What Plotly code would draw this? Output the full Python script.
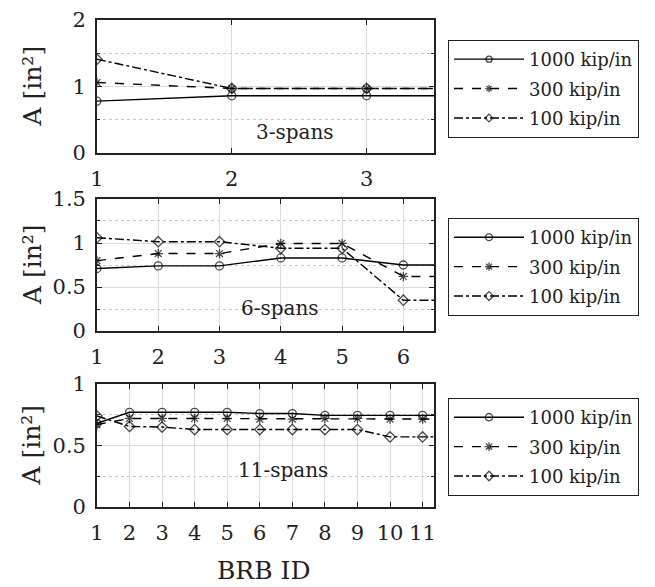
import plotly.graph_objects as go

# ---------------- data ----------------
series_names = ["1000 kip/in", "300 kip/in", "100 kip/in"]

ids_3 = [1, 2, 3]
a3_1000 = [0.78, 0.86, 0.86]
a3_300 = [1.06, 0.97, 0.97]
a3_100 = [1.41, 0.97, 0.97]

ids_6 = [1, 2, 3, 4, 5, 6]
a6_1000 = [0.71, 0.74, 0.74, 0.83, 0.83, 0.75]
a6_300 = [0.80, 0.88, 0.88, 0.995, 0.995, 0.62]
a6_100 = [1.06, 1.015, 1.015, 0.94, 0.94, 0.35]

ids_11 = [1, 2, 3, 4, 5, 6, 7, 8, 9, 10, 11]
a11_1000 = [0.68, 0.77, 0.77, 0.77, 0.77, 0.76, 0.76, 0.745, 0.745, 0.745, 0.745]
a11_300 = [0.67, 0.72, 0.72, 0.72, 0.72, 0.715, 0.715, 0.72, 0.72, 0.715, 0.715]
a11_100 = [0.74, 0.655, 0.65, 0.63, 0.63, 0.63, 0.63, 0.63, 0.63, 0.57, 0.57]

panel_labels = ["3-spans", "6-spans", "11-spans"]
x_titles = "BRB ID"
y_title = "A [in²]"

# ---------------- styling ----------------
FONT = "DejaVu Serif, Liberation Serif, serif"
dashes = ["solid", "dash", "dashdot"]
symbols = ["circle-open", "asterisk-open", "diamond-open"]

panels = [
    dict(ids=ids_3, vals=[a3_1000, a3_300, a3_100], xr=[1, 3.5], yr=[0, 2], dtick=1, minor=0.5,
         dom=[0.7394, 0.9659], lab=(0.5875, 0.158)),
    dict(ids=ids_6, vals=[a6_1000, a6_300, a6_100], xr=[1, 6.5], yr=[0, 1.5], dtick=0.5, minor=0.25,
         dom=[0.4361, 0.6610], lab=(0.543, 0.174)),
    dict(ids=ids_11, vals=[a11_1000, a11_300, a11_100], xr=[1, 11.35], yr=[0, 1], dtick=0.5, minor=0.25,
         dom=[0.1363, 0.3458], lab=(0.552, 0.30)),
]
legend_tops = [0.9319, 0.6286, 0.322]

fig = go.Figure()
layout = dict(
    width=655, height=587,
    margin=dict(l=0, r=0, t=0, b=0, autoexpand=False),
    paper_bgcolor="white", plot_bgcolor="white",
    font=dict(family=FONT, color="#222", size=21),
    annotations=[],
)

for p_i, p in enumerate(panels):
    n = p_i + 1
    xa = "x" if n == 1 else f"x{n}"
    ya = "y" if n == 1 else f"y{n}"
    lg = "legend" if n == 1 else f"legend{n}"
    xend = p["xr"][1]
    for s_i, vals in enumerate(p["vals"]):
        xs = list(p["ids"]) + [xend]
        ys = list(vals) + [vals[-1]]
        sizes = [8] * len(p["ids"]) + [0]
        fig.add_trace(go.Scatter(
            x=xs, y=ys, xaxis=xa, yaxis=ya, mode="lines+markers",
            name=series_names[s_i], legend=lg, showlegend=True,
            legendgroup=f"p{n}s{s_i}",
            line=dict(color="black", width=1.4, dash=dashes[s_i]),
            marker=dict(symbol=symbols[s_i], size=sizes, color="black",
                        line=dict(color="black", width=1.3)),
        ))
    xkey = "xaxis" if n == 1 else f"xaxis{n}"
    ykey = "yaxis" if n == 1 else f"yaxis{n}"
    layout[xkey] = dict(
        domain=[0.148, 0.6626], range=p["xr"], anchor=ya,
        tickmode="array", tickvals=p["ids"], ticktext=[str(v) for v in p["ids"]],
        showline=True, linecolor="#222", linewidth=1.5, mirror="ticks",
        ticks="inside", ticklen=5, tickcolor="#222",
        showgrid=True, gridcolor="#dcdcdc", gridwidth=1, zeroline=False,
        tickfont=dict(size=21, family=FONT, color="#222"), ticklabelstandoff=6,
        automargin=False,
    )
    layout[ykey] = dict(
        domain=p["dom"], range=p["yr"], anchor=xa, dtick=p["dtick"], tick0=0,
        showline=True, linecolor="#222", linewidth=1.5, mirror="ticks",
        ticks="inside", ticklen=5, tickcolor="#222",
        showgrid=True, gridcolor="#dcdcdc", gridwidth=1, zeroline=False,
        minor=dict(dtick=p["minor"], tick0=0, ticks="inside", ticklen=3, tickcolor="#222",
                   showgrid=True, gridcolor="#c8c8c8", griddash="dot", gridwidth=1),
        tickfont=dict(size=21, family=FONT, color="#222"), ticklabelstandoff=5,
        automargin=False,
    )
    layout[lg] = dict(
        x=0.684, y=legend_tops[p_i], xanchor="left", yanchor="top",
        bgcolor="white", bordercolor="#222", borderwidth=1,
        font=dict(size=18, family=FONT, color="#222"), itemwidth=70,
        tracegroupgap=3, groupclick="toggleitem",
    )
    layout["annotations"].append(dict(
        text=panel_labels[p_i], xref=f"{xa} domain", yref=f"{ya} domain",
        x=p["lab"][0], y=p["lab"][1], xanchor="center", yanchor="middle", showarrow=False,
        font=dict(size=20, family=FONT, color="#222"),
    ))
    mid = (p["dom"][0] + p["dom"][1]) / 2
    layout["annotations"].append(dict(
        text=y_title, xref="paper", yref="paper", x=32 / 655, y=mid,
        xanchor="center", yanchor="middle",
        textangle=-90, showarrow=False, font=dict(size=25, family=FONT, color="#222"),
    ))

layout["annotations"].append(dict(
    text=x_titles, xref="paper", yref="paper", x=263 / 655, y=1 - 570 / 587,
    xanchor="center", yanchor="middle",
    showarrow=False, font=dict(size=25, family=FONT, color="#222"),
))

fig.update_layout(**layout)
fig.write_html("out.html")
